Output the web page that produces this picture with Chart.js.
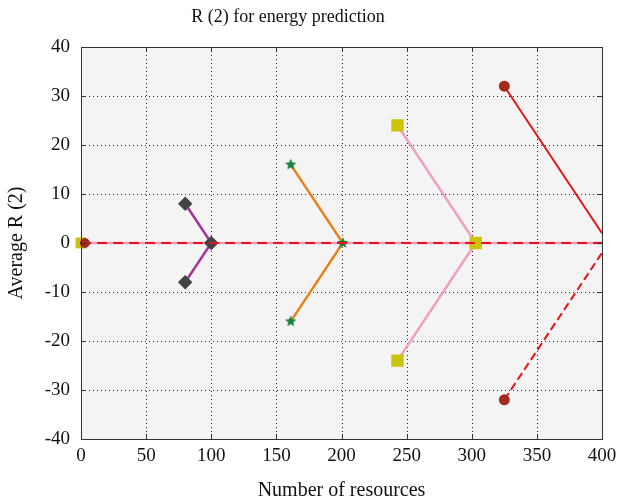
<!DOCTYPE html>
<html><head><meta charset="utf-8">
<script src="https://cdn.jsdelivr.net/npm/chart.js@4"></script>
<style>html,body{margin:0;padding:0;background:#fff}#wrap{width:617px;height:503px}</style>
</head><body><div id="wrap"><canvas id="c" width="617" height="503"></canvas></div>
<script>
const chartTitle = 'R (2) for energy prediction';
const xTicks = [0, 50, 100, 150, 200, 250, 300, 350, 400];
const yTicks = [-40, -30, -20, -10, 0, 10, 20, 30, 40];
const purpleX = [80, 100, 80];
const purpleY = [8, 0, -8];
const orangeX = [161, 201, 161];
const orangeY = [16, 0, -16];
const pinkX = [243, 303, 243];
const pinkY = [24, 0, -24];
const redUpX = [325, 400];
const redUpY = [32, 2];
const redLowX = [325, 400];
const redLowY = [-32, -2];
const baseX = [0, 400];
const baseY = [0, 0];
const originSquare = [0, 0];
const originCircle = [3, 0];

const pts = (xs, ys) => xs.map((x, i) => ({x, y: ys[i]}));

function starCanvas(color, r) {
  const s = r * 2 + 2;
  const cv = document.createElement('canvas');
  cv.width = s; cv.height = s;
  const g = cv.getContext('2d');
  g.fillStyle = color;
  g.beginPath();
  for (let i = 0; i < 10; i++) {
    const a = -Math.PI / 2 + i * Math.PI / 5;
    const rr = i % 2 === 0 ? r : r * 0.45;
    g.lineTo(s / 2 + rr * Math.cos(a), s / 2 + rr * Math.sin(a));
  }
  g.closePath(); g.fill();
  return cv;
}
const star = starCanvas('#17803a', 6);

const serif = "'Liberation Serif', 'DejaVu Serif', serif";

const framePlugin = {
  id: 'frame',
  beforeDraw(chart) {
    const {ctx, chartArea: a} = chart;
    ctx.save();
    ctx.fillStyle = '#f4f4f4';
    ctx.fillRect(a.left, a.top, a.right - a.left, a.bottom - a.top);
    ctx.fillStyle = '#111';
    ctx.font = '18px ' + serif;
    ctx.textAlign = 'center';
    ctx.textBaseline = 'middle';
    ctx.fillText(chartTitle, 288, 17);
    ctx.restore();
  },
  beforeDatasetsDraw(chart) {
    const {ctx, chartArea: a, scales} = chart;
    ctx.save();
    ctx.strokeStyle = '#222';
    ctx.lineWidth = 1;
    ctx.setLineDash([1, 3]);
    xTicks.forEach(v => {
      if (v === 0 || v === 400) return;
      const px = Math.round(scales.x.getPixelForValue(v)) + 0.5;
      ctx.beginPath(); ctx.moveTo(px, a.top); ctx.lineTo(px, a.bottom); ctx.stroke();
    });
    yTicks.forEach(v => {
      if (v === -40 || v === 40) return;
      const py = Math.round(scales.y.getPixelForValue(v)) + 0.5;
      ctx.beginPath(); ctx.moveTo(a.left, py); ctx.lineTo(a.right, py); ctx.stroke();
    });
    ctx.restore();
  },
  afterDatasetsDraw(chart) {
    const {ctx, chartArea: a, scales} = chart;
    ctx.save();
    ctx.strokeStyle = '#333';
    ctx.lineWidth = 1;
    ctx.strokeRect(Math.round(a.left) + 0.5, Math.round(a.top) + 0.5, Math.round(a.right - a.left), Math.round(a.bottom - a.top));
    const t = 5;
    xTicks.forEach(v => {
      const px = Math.round(scales.x.getPixelForValue(v)) + 0.5;
      ctx.beginPath();
      ctx.moveTo(px, a.bottom); ctx.lineTo(px, a.bottom - t);
      ctx.moveTo(px, a.top); ctx.lineTo(px, a.top + t);
      ctx.stroke();
    });
    yTicks.forEach(v => {
      const py = Math.round(scales.y.getPixelForValue(v)) + 0.5;
      ctx.beginPath();
      ctx.moveTo(a.left, py); ctx.lineTo(a.left + t, py);
      ctx.moveTo(a.right, py); ctx.lineTo(a.right - t, py);
      ctx.stroke();
    });
    ctx.restore();
  }
};

new Chart(document.getElementById('c'), {
  type: 'line',
  data: {
    datasets: [
      {data: pts(baseX, baseY), borderColor: '#f29ec0', borderWidth: 2.5, pointRadius: 0, order: 9},
      {data: pts(purpleX, purpleY), borderColor: '#a3359b', borderWidth: 2.5, pointStyle: 'rectRot', pointRadius: 5.5, pointBackgroundColor: '#444', pointBorderColor: '#444', order: 5},
      {data: pts(orangeX, orangeY), borderColor: '#e58418', borderWidth: 2.5, pointStyle: star, order: 5},
      {data: pts(pinkX, pinkY), borderColor: '#f29ec0', borderWidth: 2.5, pointStyle: 'rect', pointRadius: 7, pointBackgroundColor: '#cbc20a', pointBorderColor: '#cbc20a', order: 5},
      {data: pts(redUpX, redUpY), borderColor: '#e8141c', borderWidth: 2, pointRadius: [4.5, 0], pointBackgroundColor: '#a32a1c', pointBorderColor: '#a32a1c', order: 4},
      {data: pts(redLowX, redLowY), borderColor: '#e8141c', borderWidth: 2, borderDash: [8, 4], pointRadius: [4.5, 0], pointBackgroundColor: '#a32a1c', pointBorderColor: '#a32a1c', order: 4},
      {data: pts(baseX, baseY), borderColor: '#e8141c', borderWidth: 2, borderDash: [10, 6], pointRadius: 0, order: 3},
      {data: [{x: originSquare[0], y: originSquare[1]}], showLine: false, pointStyle: 'rect', pointRadius: 7, pointBackgroundColor: '#cbc20a', pointBorderColor: '#cbc20a', order: 2},
      {data: [{x: originCircle[0], y: originCircle[1]}], showLine: false, pointRadius: 4.5, pointBackgroundColor: '#a32a1c', pointBorderColor: '#a32a1c', order: 1}
    ]
  },
  options: {
    responsive: false,
    animation: false,
    clip: false,
    layout: {padding: {top: 47, right: 15, bottom: 0, left: 0}},
    plugins: {
      legend: {display: false},
      tooltip: {enabled: false},
      title: {display: false}
    },
    scales: {
      x: {
        type: 'linear', min: 0, max: 400,
        afterBuildTicks: s => { s.ticks = xTicks.map(v => ({value: v})); },
        afterFit: s => { s.height = 64; s.paddingLeft = 0; s.paddingRight = 0; },
        grid: {display: false, drawTicks: false},
        border: {display: false},
        ticks: {color: '#111', font: {family: serif, size: 19}, padding: 6, maxRotation: 0},
        title: {display: true, text: 'Number of resources', color: '#111', font: {family: serif, size: 20}, padding: {top: 1, bottom: 0}}
      },
      y: {
        type: 'linear', min: -40, max: 40,
        afterBuildTicks: s => { s.ticks = yTicks.map(v => ({value: v})); },
        afterFit: s => { s.width = 81; s.paddingTop = 0; s.paddingBottom = 0; },
        grid: {display: false, drawTicks: false},
        border: {display: false},
        ticks: {color: '#111', font: {family: serif, size: 19}, padding: 11},
        title: {display: true, text: 'Average R (2)', color: '#111', font: {family: serif, size: 20}, padding: {top: 5, bottom: 0}}
      }
    }
  },
  plugins: [framePlugin]
});
</script>
</body></html>
